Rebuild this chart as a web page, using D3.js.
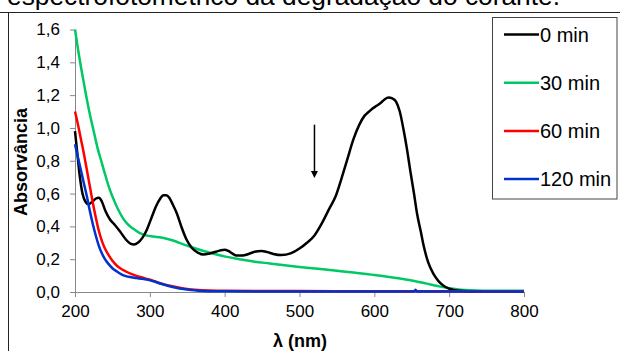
<!DOCTYPE html>
<html><head><meta charset="utf-8">
<script src="https://cdn.jsdelivr.net/npm/d3@7"></script>
<style>
html,body{margin:0;padding:0;background:#fff;}
svg{display:block;font-family:Arial,"Liberation Sans",sans-serif;}
</style></head>
<body>
<svg id="c" width="620" height="351"></svg>
<script>
// ---- data ----
const titleText = "espectrofotométrico da degradação do corante.";
const seriesNames = ["0 min", "30 min", "60 min", "120 min"];
const seriesColors = ["#000000", "#00c864", "#ff0000", "#0033cc"];
const xTicks = [200, 300, 400, 500, 600, 700, 800];
const yTicks = [0, 0.2, 0.4, 0.6, 0.8, 1.0, 1.2, 1.4, 1.6];
const xLabel = "λ (nm)";
const yLabel = "Absorvância";
const arrowLambda = 520, arrowFrom = 1.02, arrowTo = 0.695;

const lam0 = [200,203,206,210,214,218,223,228,232,236,241,247,253,260,268,274,279,284,290,296,302,308,314,318,322,326,330,336,342,349,356,364,372,380,388,395,400,405,410,416,424,432,440,449,457,465,476,488,500,510,520,530,540,548,556,564,572,580,587,593,598,603,608,614,619,624,629,634,639,644,648,653,657,662,666,672,679,686,692,699,706,715,730,750,775,800];
const abs0 = [0.98,0.85,0.72,0.60,0.55,0.535,0.55,0.57,0.575,0.55,0.49,0.44,0.41,0.37,0.32,0.295,0.29,0.30,0.33,0.38,0.45,0.52,0.57,0.59,0.59,0.575,0.54,0.48,0.40,0.32,0.27,0.24,0.228,0.235,0.245,0.255,0.258,0.25,0.235,0.222,0.222,0.232,0.245,0.25,0.243,0.232,0.225,0.235,0.265,0.30,0.345,0.42,0.51,0.58,0.69,0.81,0.93,1.02,1.075,1.10,1.12,1.135,1.15,1.175,1.185,1.18,1.16,1.10,0.99,0.86,0.74,0.60,0.48,0.37,0.28,0.18,0.11,0.065,0.04,0.022,0.012,0.007,0.005,0.004,0.004,0.004];

const lam30 = [200,204,208,212,216,220,225,230,235,240,246,252,258,264,270,278,286,295,305,315,325,335,345,358,372,388,403,420,440,460,480,500,525,550,575,600,620,640,655,670,685,700,715,730,750,775,800];
const abs30 = [1.60,1.48,1.37,1.27,1.17,1.08,0.98,0.88,0.80,0.72,0.63,0.56,0.50,0.45,0.415,0.385,0.36,0.345,0.338,0.332,0.322,0.308,0.29,0.27,0.25,0.23,0.214,0.20,0.185,0.174,0.163,0.153,0.141,0.129,0.117,0.104,0.091,0.078,0.066,0.051,0.036,0.023,0.014,0.010,0.008,0.007,0.007];

const lam60 = [200,204,208,212,216,220,224,228,232,236,240,245,250,256,262,268,275,282,290,298,306,315,325,335,345,355,365,380,400,450,500,550,600,650,700,750,800];
const abs60 = [1.10,1.02,0.93,0.84,0.74,0.64,0.54,0.45,0.37,0.31,0.265,0.225,0.19,0.16,0.14,0.125,0.11,0.098,0.088,0.078,0.066,0.052,0.04,0.03,0.022,0.016,0.012,0.009,0.007,0.006,0.006,0.005,0.005,0.005,0.004,0.004,0.004];

const lam120 = [200,204,208,212,216,220,224,228,232,236,240,245,250,256,262,268,275,282,290,298,306,315,325,335,345,355,365,380,400,450,500,550,600,653,655,657,700,750,800];
const abs120 = [0.90,0.82,0.74,0.66,0.58,0.49,0.41,0.34,0.28,0.235,0.20,0.17,0.145,0.125,0.108,0.097,0.09,0.085,0.08,0.074,0.064,0.05,0.037,0.026,0.018,0.012,0.008,0.005,0.004,0.003,0.003,0.003,0.003,0.003,0.014,0.003,0.003,0.003,0.003];

const seriesLam = [lam0, lam30, lam60, lam120];
const seriesAbs = [abs0, abs30, abs60, abs120];
const drawOrder = [1, 0, 2, 3];

// ---- drawing ----
const svg = d3.select("#c");
const font = 'Arial,"Liberation Sans",sans-serif';

// title (cut at the top, as in the reference)
svg.append("text").attr("x", 7).attr("y", 5).attr("font-size", 26)
  .attr("textLength", 553).attr("lengthAdjust", "spacingAndGlyphs")
  .attr("fill", "#000").text(titleText);
// frame lines
svg.append("line").attr("x1", 0).attr("x2", 620).attr("y1", 12.5).attr("y2", 12.5).attr("stroke", "#222").attr("stroke-width", 1);
svg.append("line").attr("x1", 8.5).attr("x2", 8.5).attr("y1", 12.5).attr("y2", 351).attr("stroke", "#222").attr("stroke-width", 1);

const x = d3.scaleLinear().domain([200, 800]).range([75, 524]);
const y = d3.scaleLinear().domain([0, 1.6]).range([292, 29.5]);

const gx = svg.append("g").attr("transform", `translate(0,${y(0)})`)
  .call(d3.axisBottom(x).tickValues(xTicks).tickSize(5).tickSizeOuter(0).tickPadding(8).tickFormat(d3.format("d")));
const gy = svg.append("g").attr("transform", `translate(${x(200)},0)`)
  .call(d3.axisLeft(y).tickValues(yTicks).tickSize(5).tickSizeOuter(0).tickPadding(10).tickFormat(d => d.toFixed(1).replace(".", ",")));
[gx, gy].forEach(g => {
  g.select(".domain").attr("stroke", "#888");
  g.selectAll(".tick line").attr("stroke", "#888");
  g.selectAll(".tick text").attr("font-family", font).attr("font-size", 17).attr("fill", "#000");
});

const line = d3.line().x(d => x(d[0])).y(d => y(d[1])).curve(d3.curveMonotoneX);
drawOrder.forEach(i => {
  const pts = seriesLam[i].map((l, k) => [l, seriesAbs[i][k]]);
  svg.append("path").datum(pts).attr("d", line).attr("fill", "none")
    .attr("stroke", seriesColors[i]).attr("stroke-width", 2.5).attr("stroke-linejoin", "round");
});

// arrow
const ax = x(arrowLambda);
svg.append("line").attr("x1", ax).attr("x2", ax).attr("y1", y(arrowFrom)).attr("y2", y(arrowTo) - 6)
  .attr("stroke", "#000").attr("stroke-width", 1.5);
svg.append("path").attr("d", `M${ax - 3.5},${y(arrowTo) - 7} L${ax + 3.5},${y(arrowTo) - 7} L${ax},${y(arrowTo)} Z`).attr("fill", "#000");

// axis titles
svg.append("text").attr("x", 300).attr("y", 347).attr("text-anchor", "middle")
  .attr("font-size", 18).attr("font-weight", "bold").text(xLabel);
svg.append("text").attr("transform", "translate(27,162) rotate(-90)").attr("text-anchor", "middle")
  .attr("font-size", 18).attr("font-weight", "bold").text(yLabel);

// legend
const lg = svg.append("g");
lg.append("rect").attr("x", 492.5).attr("y", 17.5).attr("width", 124.5).attr("height", 181.5)
  .attr("fill", "#fff").attr("stroke", "#444").attr("stroke-width", 1);
seriesNames.forEach((n, i) => {
  const ly = 34.5 + i * 48.2;
  lg.append("line").attr("x1", 504).attr("x2", 539).attr("y1", ly).attr("y2", ly)
    .attr("stroke", seriesColors[i]).attr("stroke-width", 2.5);
  lg.append("text").attr("x", 540).attr("y", ly + 7).attr("font-size", 20).attr("fill", "#000").text(n);
});
</script>
</body></html>
